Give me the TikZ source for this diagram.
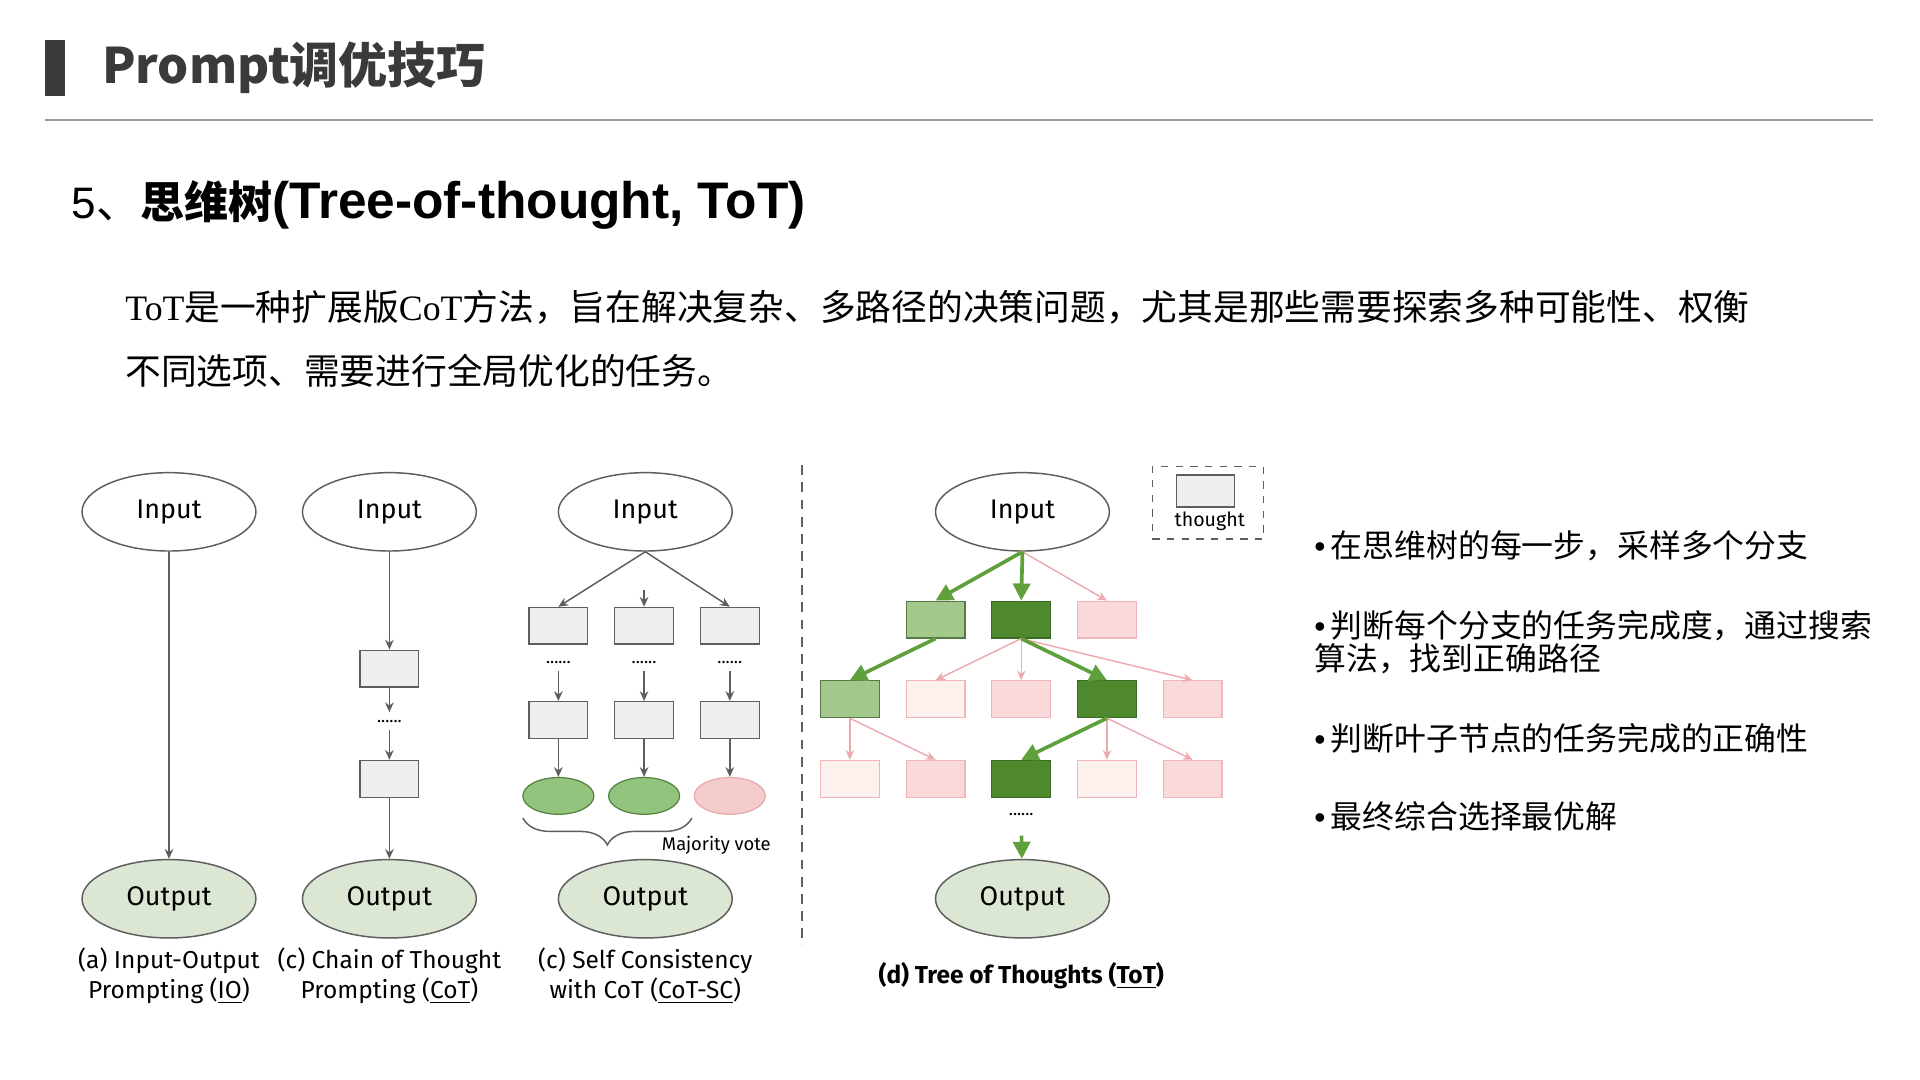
\documentclass[tikz,border=0pt]{standalone}
\usepackage{fontspec}
\usepackage{tikz}
\usetikzlibrary{shapes.geometric, arrows.meta, decorations.pathreplacing}

\newfontfamily\cjk{Noto Sans CJK SC}
\newfontfamily\dg{Fira Sans}
\newfontfamily\lsans{Liberation Sans}
\newfontfamily\lserif{Liberation Serif}

\definecolor{cTitle}{HTML}{3A3A3A}
\definecolor{cRule}{HTML}{9A9A9A}
\definecolor{cLine}{HTML}{5E5E5E}
\definecolor{cOut}{HTML}{DBE7D3}
\definecolor{cBox}{HTML}{EFEFEF}
\definecolor{cGood}{HTML}{93C47D}
\definecolor{cGoodB}{HTML}{55823F}
\definecolor{cBad}{HTML}{F4CCCC}
\definecolor{cBadB}{HTML}{E9A9AB}
\definecolor{cDark}{HTML}{4E8A2D}
\definecolor{cDarkB}{HTML}{3A6B22}
\definecolor{cLight}{HTML}{A3C88C}
\definecolor{cLightB}{HTML}{557A44}
\definecolor{cPink}{HTML}{F9D9DA}
\definecolor{cPinkB}{HTML}{F0B5B8}
\definecolor{cPale}{HTML}{FDF1EE}
\definecolor{cArrG}{HTML}{5FA03C}
\definecolor{cArrP}{HTML}{EEAAAE}

\newcommand{\lt}[1]{{\lserif #1}}
\newcommand{\bul}{{\lsans •}\,}

\begin{document}
\begin{tikzpicture}[x=0.5pt, y=-0.5pt,
  inp/.style={ellipse, draw=cLine, line width=0.6pt, minimum width=71pt, minimum height=32pt, inner sep=1pt, font=\dg\fontsize{11}{13}\selectfont},
  outp/.style={inp, fill=cOut},
  thbox/.style={rectangle, draw=cLine, line width=0.5pt, fill=cBox, minimum width=24pt, minimum height=15pt, inner sep=0pt},
  dotsn/.style={inner sep=3pt, font=\dg\fontsize{7}{7}\selectfont},
  captext/.style={align=center, font=\dg\fontsize{10}{12.5}\selectfont},
  vote/.style={ellipse, line width=0.5pt, minimum width=29pt, minimum height=15pt, inner sep=0pt},
  tdark/.style={thbox, fill=cDark, draw=cDarkB},
  tlight/.style={thbox, fill=cLight, draw=cLightB},
  tpink/.style={thbox, fill=cPink, draw=cPinkB},
  tpale/.style={thbox, fill=cPale, draw=cPinkB},
  arr/.style={draw=cLine, line width=0.6pt, -{Stealth[length=4pt, width=3.5pt]}},
  good/.style={draw=cArrG, line width=1.5pt, -{Triangle[length=7pt, width=7pt]}},
  bad/.style={draw=cArrP, line width=0.6pt, -{Stealth[length=4pt, width=3.5pt]}},
  bullet/.style={anchor=west, align=left, inner sep=0pt, font=\cjk\fontsize{13}{13.5}\selectfont}]

  % 页面
  \fill[white] (0,0) rectangle (1568,882);
  \useasboundingbox (0,0) rectangle (1568,882);

  % 标题
  \fill[cTitle] (37,33) rectangle (53,78);
  \node[anchor=west, inner sep=0pt, text=cTitle, font=\cjk\bfseries\fontsize{20}{24}\selectfont] (title) at (83,55) {Prompt调优技巧};
  \draw[cRule, line width=1pt] (37,98) -- (1530,98);

  % 小标题与正文
  \node[anchor=west, inner sep=0pt, font=\cjk\fontsize{18}{22}\selectfont] (head) at (58,167)
    {{\lsans 5}、{\bfseries 思维树{\lsans\fontsize{21}{22}\selectfont (Tree-of-thought, ToT)}}};
  \node[anchor=west, inner sep=0pt, font=\cjk\fontsize{14.6}{18}\selectfont] (body1) at (102,251)
    {\lt{ToT}是一种扩展版\lt{CoT}方法，旨在解决复杂、多路径的决策问题，尤其是那些需要探索多种可能性、权衡};
  \node[anchor=west, inner sep=0pt, font=\cjk\fontsize{14.6}{18}\selectfont] (body2) at (102,303)
    {不同选项、需要进行全局优化的任务。};

  % (a) IO
  \node[inp] (ain) at (138,418) {Input};
  \node[outp] (aout) at (138,734) {Output};
  \draw[arr] (ain) -- (aout);
  \node[captext] (acap) at (138,797) {(a) Input-Output\\Prompting (\underline{IO})};

  % (c) CoT
  \node[inp] (bin) at (318,418) {Input};
  \node[thbox] (b1) at (318,546) {};
  \node[dotsn] (bdots) at (318,589) {......};
  \node[thbox] (b2) at (318,636) {};
  \node[outp] (bout) at (318,734) {Output};
  \draw[arr] (bin) -- (b1);
  \draw[arr] (b1) -- (bdots);
  \draw[arr] (bdots) -- (b2);
  \draw[arr] (b2) -- (bout);
  \node[captext] (bcap) at (318,797) {(c) Chain of Thought\\Prompting (\underline{CoT})};

  % (c) CoT-SC
  \node[inp] (cin) at (527,418) {Input};
  \foreach \i/\x in {1/456, 2/526, 3/596} {
    \node[thbox] (c1\i) at (\x,511) {};
    \node[dotsn] (cd\i) at (\x,541) {......};
    \node[thbox] (c2\i) at (\x,588) {};
    \draw[arr] (cd\i) -- (c2\i);
  }
  \node[vote, fill=cGood, draw=cGoodB] (ce1) at (456,650) {};
  \node[vote, fill=cGood, draw=cGoodB] (ce2) at (526,650) {};
  \node[vote, fill=cBad, draw=cBadB] (ce3) at (596,650) {};
  \foreach \i in {1,2,3}
    \draw[arr] (c2\i) -- (ce\i);
  \draw[arr] (cin.south) -- (c11.north);
  \draw[arr] (cin.south) -- (c13.north);
  \coordinate (cm) at (526,482);
  \draw[arr] (cm) -- (c12);
  \draw[cLine, line width=0.6pt, decorate, decoration={brace, mirror, amplitude=11pt}] (427,668) -- (565,668);
  \node[font=\dg\fontsize{7.5}{9}\selectfont] (votetxt) at (585,690) {Majority vote};
  \node[outp] (cout) at (527,734) {Output};
  \node[captext] (ccap) at (527,797) {(c) Self Consistency\\with CoT (\underline{CoT-SC})};

  % 分隔线
  \draw[cLine, line width=1pt, dash pattern=on 4pt off 3pt] (655,380) -- (655,772);

  % (d) ToT
  \node[inp] (tin) at (835,418) {Input};
  \node[draw=cLine, line width=0.6pt, dashed, minimum width=45.5pt, minimum height=29.5pt] (leg) at (986.5,410.5) {};
  \node[thbox, minimum width=23.5pt, minimum height=13pt] (legbox) at (984.5,401) {};
  \node[inner sep=0pt, font=\dg\fontsize{8}{9}\selectfont] (legtxt) at (988,426) {thought};

  \node[tlight] (r1a) at (764,506) {};
  \node[tdark] (r1b) at (834,506) {};
  \node[tpink] (r1c) at (904,506) {};
  \foreach \n/\x/\s in {a/694/tlight, b/764/tpale, c/834/tpink, d/904/tdark, e/974/tpink}
    \node[\s] (r2\n) at (\x,571) {};
  \foreach \n/\x/\s in {a/694/tpale, b/764/tpink, c/834/tdark, d/904/tpale, e/974/tpink}
    \node[\s] (r3\n) at (\x,636) {};
  \node[dotsn] (tdots) at (834,665) {......};
  \node[outp] (tout) at (835,734) {Output};

  \foreach \a/\b in {tin/r1c, r1b/r2b, r1b/r2c, r1b/r2e, r2a/r3a, r2a/r3b, r2d/r3d, r2d/r3e}
    \draw[bad] (\a.south) -- (\b.north);
  \foreach \a/\b in {tin/r1a, tin/r1b, r1a/r2a, r1b/r2d, r2d/r3c}
    \draw[good] (\a.south) -- (\b.north);
  \draw[good, shorten <=5pt] (tdots) -- (tout);
  \node[captext, font=\dg\bfseries\fontsize{10}{12.5}\selectfont] (tcap) at (834,797) {(d) Tree of Thoughts (\underline{ToT})};

  % 右侧要点
  \node[bullet] (p1) at (1073,446) {\bul 在思维树的每一步，采样多个分支};
  \node[bullet] (p2) at (1073,524.5) {\bul 判断每个分支的任务完成度，通过搜索\\算法，找到正确路径};
  \node[bullet] (p3) at (1073,603) {\bul 判断叶子节点的任务完成的正确性};
  \node[bullet] (p4) at (1073,667) {\bul 最终综合选择最优解};
\end{tikzpicture}
\end{document}
